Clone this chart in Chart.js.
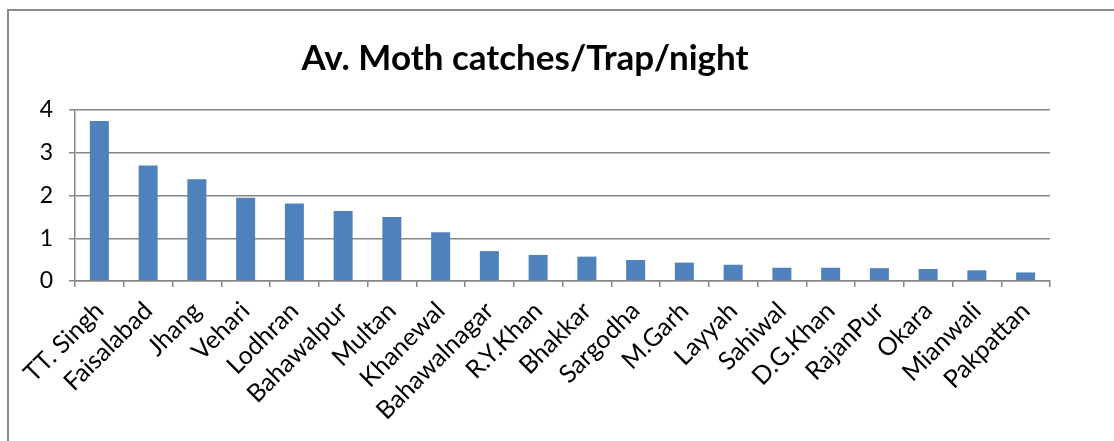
<!DOCTYPE html>
<html>
<head>
<meta charset="utf-8">
<script src="https://cdn.jsdelivr.net/npm/chart.js@4"></script>
<style>
    html, body { margin: 0; padding: 0; background: #fff; }
    #wrap { position: relative; width: 1114px; height: 441px; }
    #frame {
        position: absolute; left: 7px; top: 9px; right: 0; bottom: 0;
        border-left: 2px solid #8c8c8c; border-top: 2px solid #8c8c8c;
    }
    canvas { position: absolute; left: 0; top: 0; }
</style>
</head>
<body>
<div id="wrap">
    <div id="frame"></div>
    <canvas id="chart" width="1114" height="441"></canvas>
</div>
<script>
// District names, in the order shown
const DISTRICTS = [
    "TT. Singh", "Faisalabad", "Jhang", "Vehari", "Lodhran",
    "Bahawalpur", "Multan", "Khanewal", "Bahawalnagar", "R.Y.Khan",
    "Bhakkar", "Sargodha", "M.Garh", "Layyah", "Sahiwal",
    "D.G.Khan", "RajanPur", "Okara", "Mianwali", "Pakpattan",
];

// Average moth catches per trap per night
const CATCHES = [
    3.74, 2.70, 2.38, 1.95, 1.81,
    1.64, 1.50, 1.14, 0.70, 0.61,
    0.57, 0.49, 0.43, 0.38, 0.31,
    0.31, 0.30, 0.28, 0.25, 0.20,
];

const Y_TICKS = [0, 1, 2, 3, 4];

const FONT = "Lato, 'Open Sans', sans-serif";
const AXIS_GREY = "#868686";

const ctx = document.getElementById("chart").getContext("2d");
new Chart(ctx, {
    type: "bar",
    data: {
        labels: DISTRICTS,
        datasets: [{
            data: CATCHES,
            backgroundColor: "#4f81bd",
            categoryPercentage: 1,
            barPercentage: 0.39,
        }],
    },
    options: {
        responsive: false,
        animation: false,
        layout: { padding: { left: 0, right: 64, top: 0, bottom: 0 } },
        plugins: {
            legend: { display: false },
            tooltip: { enabled: false },
            title: {
                display: true,
                text: "Av. Moth catches/Trap/night",
                color: "#000",
                font: { family: FONT, size: 35, weight: "bold", lineHeight: 1.2 },
                padding: { top: 38, bottom: 30 },
            },
        },
        scales: {
            x: {
                grid: {
                    display: true,
                    drawOnChartArea: false,
                    drawTicks: true,
                    tickLength: 6,
                    color: AXIS_GREY,
                    lineWidth: 1.5,
                },
                border: { color: AXIS_GREY, width: 1.5 },
                ticks: {
                    color: "#000",
                    font: { family: FONT, size: 25 },
                    minRotation: 45,
                    maxRotation: 45,
                    autoSkip: false,
                    padding: 9,
                },
                afterFit: (scale) => { scale.height = 160; },
            },
            y: {
                min: 0,
                max: 4,
                afterBuildTicks: (scale) => {
                    scale.ticks = Y_TICKS.map((v) => ({ value: v }));
                },
                grid: {
                    color: AXIS_GREY,
                    lineWidth: 1.5,
                    tickLength: 6,
                },
                border: { color: AXIS_GREY, width: 1.5 },
                ticks: {
                    color: "#000",
                    font: { family: FONT, size: 23 },
                    padding: 16,
                },
                afterFit: (scale) => { scale.width = 75; },
            },
        },
    },
});
</script>
</body>
</html>
